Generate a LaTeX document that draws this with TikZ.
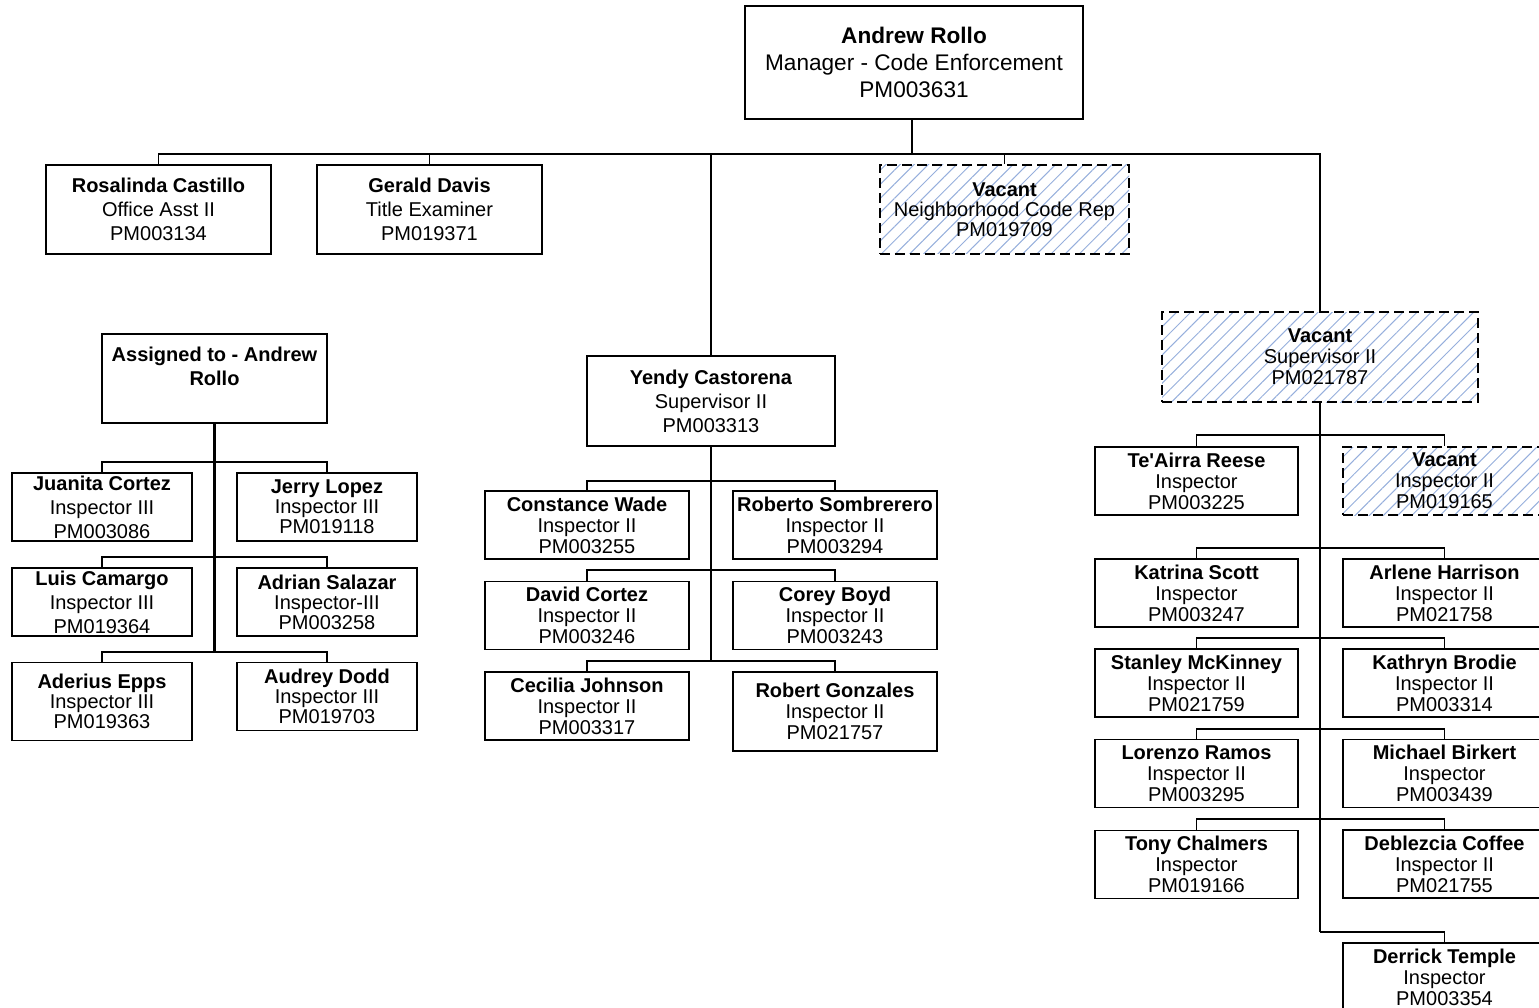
\documentclass[tikz,border=0pt]{standalone}
\usepackage{fontspec}
\setmainfont{Liberation Sans}
\usetikzlibrary{patterns.meta}
\definecolor{hatch}{RGB}{150,175,220}

\tikzset{
  box/.style={draw, line width=1.4pt, rectangle, inner sep=0pt, align=center,
    font=\fontsize{20}{21}\selectfont, minimum height=68pt},
  wide/.style={font=\fontsize{20}{24}\selectfont},
  vacant/.style={dash pattern=on 10pt off 5pt,
    pattern={Lines[angle=45,distance=10pt,line width=1pt]}, pattern color=hatch},
  bus/.style={line width=1.4pt},
  trunk/.style={line width=2.2pt},
}

\begin{document}
\begin{tikzpicture}[x=1pt,y=-1pt]
\useasboundingbox (0,0) rectangle (1539,1008);
\clip (0,0) rectangle (1539,1008);

% top level
\node[box, minimum width=338pt, minimum height=113pt, font=\fontsize{22.6}{27}\selectfont]
  (mgr) at (914,62.5) {\textbf{Andrew Rollo}\\Manager - Code Enforcement\\PM003631};
\coordinate (top) at (912,154);
\draw[trunk] (top |- mgr.south) -- (top);

\node[box, wide, minimum width=225pt, minimum height=89pt] (rc) at (158.5,209.5)
  {\textbf{Rosalinda Castillo}\\Office Asst II\\PM003134};
\node[box, wide, minimum width=225pt, minimum height=89pt] (gd) at (429.5,209.5)
  {\textbf{Gerald Davis}\\Title Examiner\\PM019371};
\node[box, vacant, font=\fontsize{20}{20}\selectfont, minimum width=249pt, minimum height=89pt]
  (vncr) at (1004.5,209.5) {\textbf{Vacant}\\Neighborhood Code Rep\\PM019709};
\node[box, wide, minimum width=248pt, minimum height=90pt] (yc) at (711,401)
  {\textbf{Yendy Castorena}\\Supervisor II\\PM003313};
\node[box, vacant, font=\fontsize{20}{21}\selectfont, minimum width=316pt, minimum height=90pt]
  (vs) at (1320,357) {\textbf{Vacant}\\Supervisor II\\PM021787};

\draw[bus] (rc.north) |- (top) -| (vs.north);
\foreach \n in {gd, vncr, yc}
  \draw[bus] (top -| \n.north) -- (\n.north);

% assigned group
\node[box, wide, font=\bfseries\fontsize{20}{24}\selectfont, minimum width=225pt, minimum height=89pt]
  (ar) at (214.5,378.5) {Assigned to - Andrew\\Rollo\\[-6pt]\strut};
\newcommand{\arpts}{jc/102/507/68/462/24/Juanita Cortez/Inspector III/PM003086,
  jl/327/507/68/462/20/Jerry Lopez/Inspector III/PM019118,
  lc/102/602/68/557/24/Luis Camargo/Inspector III/PM019364,
  as/327/602/68/557/20/Adrian Salazar/Inspector-III/PM003258,
  ae/102/701.5/78/652/20/Aderius Epps/Inspector III/PM019363,
  ad/327/696.5/68/652/20/Audrey Dodd/Inspector III/PM019703}
\draw[trunk] (ar.south) -- (ar.south |- 0,652);
\foreach \n/\x/\y/\h/\b/\s/\who/\job/\pm in \arpts {
  \node[box, minimum width=180pt, minimum height=\h pt, font=\fontsize{20}{\s}\selectfont]
    (\n) at (\x,\y) {\textbf{\who}\\\job\\\pm};
  \draw[bus] (ar.south |- 0,\b) -| (\n.north);
}

% Yendy's team
\newcommand{\ycpts}{cw/587/525/68/481/Constance Wade/PM003255,
  rs/835/525/68/481/Roberto Sombrerero/PM003294,
  dc/587/615.5/68/570/David Cortez/PM003246,
  cb/835/615.5/68/570/Corey Boyd/PM003243,
  cj/587/706/68/661/Cecilia Johnson/PM003317,
  rg/835/711.5/79/661/Robert Gonzales/PM021757}
\draw[trunk] (yc.south) -- (yc.south |- 0,661);
\foreach \n/\x/\y/\h/\b/\who/\pm in \ycpts {
  \node[box, minimum width=204pt, minimum height=\h pt] (\n) at (\x,\y)
    {\textbf{\who}\\Inspector II\\\pm};
  \draw[bus] (yc.south |- 0,\b) -| (\n.north);
}

% vacant supervisor's team
\newcommand{\vspts}{tr/1196.5/481/435/Te\textquotesingle Airra Reese/Inspector/PM003225,
  ks/1196.5/593/548/Katrina Scott/Inspector/PM003247,
  ah/1444.5/593/548/Arlene Harrison/Inspector II/PM021758,
  sm/1196.5/683/638/Stanley McKinney/Inspector II/PM021759,
  kb/1444.5/683/638/Kathryn Brodie/Inspector II/PM003314,
  lr/1196.5/773.5/729/Lorenzo Ramos/Inspector II/PM003295,
  mb/1444.5/773.5/729/Michael Birkert/Inspector/PM003439,
  tc/1196.5/864.5/819/Tony Chalmers/Inspector/PM019166,
  dcf/1444.5/864/819/Deblezcia Coffee/Inspector II/PM021755,
  dt/1444.5/977/932/Derrick Temple/Inspector/PM003354}
\draw[trunk] (vs.south) -- (vs.south |- 0,932);
\node[box, vacant, minimum width=203pt] (vi) at (1444.5,481)
  {\textbf{Vacant}\\Inspector II\\PM019165};
\draw[bus] (vs.south |- 0,435) -| (vi.north);
\foreach \n/\x/\y/\b/\who/\job/\pm in \vspts {
  \node[box, minimum width=203pt] (\n) at (\x,\y) {\textbf{\who}\\\job\\\pm};
  \draw[bus] (vs.south |- 0,\b) -| (\n.north);
}
\end{tikzpicture}
\end{document}
